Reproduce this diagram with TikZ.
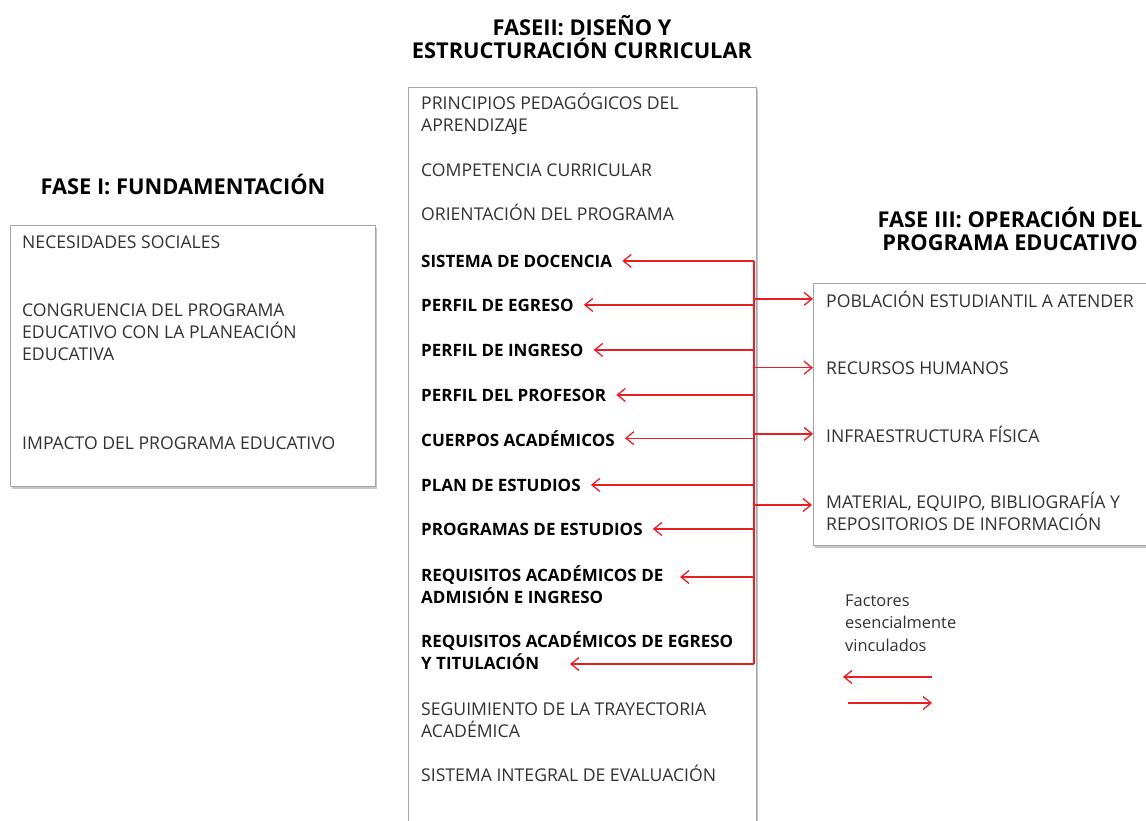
\documentclass[tikz,border=0pt]{standalone}
\usepackage{fontspec}
\setmainfont{Open Sans}
\usetikzlibrary{arrows.meta,positioning,shadows}

\definecolor{linkred}{RGB}{232,30,38}
\definecolor{boxgray}{RGB}{165,165,165}
\definecolor{itemgray}{RGB}{50,50,50}

\begin{document}
\begin{tikzpicture}[x=1pt, y=-1pt, >={Straight Barb[length=8pt,width=13pt]},
    panel/.style={draw=boxgray, line width=0.8pt, fill=white, anchor=north west,
        drop shadow={shadow xshift=2pt, shadow yshift=-2.5pt, opacity=0.45}},
    item/.style={anchor=base west, align=left, inner xsep=10pt, inner ysep=2pt,
        text=itemgray, font=\fontsize{17.6}{22}\selectfont},
    keyitem/.style={item, text=black, font=\fontsize{17}{22}\selectfont\bfseries},
    phase/.style={anchor=base, align=center, font=\fontsize{21.8}{23}\selectfont\bfseries},
    note/.style={anchor=base west, align=left, inner xsep=0pt, text=itemgray,
        font=\fontsize{16.4}{22.5}\selectfont},
    link/.style={->, draw=linkred, line width=1.3pt},
    wire/.style={draw=linkred, line width=1.3pt}]

    \clip (0,0) rectangle (1146,821);

    % Boxes {fundamentacion, diseno, operacion}
    \node [panel, minimum width=365pt, minimum height=261pt] (fund) at (10,225)  {};
    \node [panel, minimum width=348pt, minimum height=760pt] (dis)  at (408,87)  {};
    \node [panel, minimum width=360pt, minimum height=262pt] (oper) at (813,283) {};

    % Titles (base = last line)
    \node [phase] (t1) at (183,195) {FASE I: FUNDAMENTACIÓN};
    \node [phase] (t2) at (582,59)  {FASEII: DISEÑO Y\\ESTRUCTURACIÓN CURRICULAR};
    \node [phase] (t3) at (1010,251) {FASE III: OPERACIÓN DEL\\PROGRAMA EDUCATIVO};

    % Fase I
    \node [item] (necsoc) at (12,249) {NECESIDADES SOCIALES};
    \node [item] (congru) at (12,360) {CONGRUENCIA DEL PROGRAMA\\EDUCATIVO CON LA PLANEACIÓN\\EDUCATIVA};
    \node [item] (impact) at (12,449) {IMPACTO DEL PROGRAMA EDUCATIVO};

    % Fase II
    \node [item]    (princ)    at (411,132) {PRINCIPIOS PEDAGÓGICOS DEL\\APRENDIZA\kern-2.5pt JE};
    \node [item]    (compet)   at (411,177) {COMPETENCIA CURRICULAR};
    \node [item]    (orient)   at (411,221) {ORIENTACIÓN DEL PROGRAMA};
    \node [keyitem] (sisdoc)   at (411,267) {SISTEMA DE DOCENCIA};
    \node [keyitem] (pegreso)  at (411,311) {PERFIL DE EGRESO};
    \node [keyitem] (pingreso) at (411,356) {PERFIL DE INGRESO};
    \node [keyitem] (pprof)    at (411,401) {PERFIL DEL PROFESOR};
    \node [keyitem] (cuerpos)  at (411,446) {CUERPOS ACADÉMICOS};
    \node [keyitem] (plan)     at (411,491) {PLAN DE ESTUDIOS};
    \node [keyitem] (progs)    at (411,535) {PROGRAMAS DE ESTUDIOS};
    \node [keyitem] (reqadm)   at (411,603) {REQUISITOS ACADÉMICOS DE\\ADMISIÓN E INGRESO};
    \node [keyitem] (reqegr)   at (411,669) {REQUISITOS ACADÉMICOS DE EGRESO\\Y TITULACIÓN};
    \node [item]    (segui)    at (411,737) {SEGUIMIENTO DE LA TRAYECTORIA\\ACADÉMICA};
    \node [item]    (siseval)  at (411,781) {SISTEMA INTEGRAL DE EVALUACIÓN};

    % Fase III
    \node [item] (pobla) at (816,307) {POBLACIÓN ESTUDIANTIL A ATENDER};
    \node [item] (rrhh)  at (816,374) {RECURSOS HUMANOS};
    \node [item] (infra) at (816,442) {INFRAESTRUCTURA FÍSICA};
    \node [item] (mater) at (816,530) {MATERIAL, EQUIPO, BIBLIOGRAFÍA Y\\REPOSITORIOS DE INFORMACIÓN};

    % Legend
    \node [note] (factores) at (845,651) {Factores\\esencialmente\\vinculados};
    \coordinate (legA) at (932,677);
    \coordinate (legB) at (843,677);
    \coordinate (legC) at (848,703);
    \coordinate (legD) at (932,703);

    % Rail and arrow tips
    \coordinate (railx) at (754,0);
    \coordinate (reqadm tip) at (680,577);
    \coordinate (reqegr tip) at (570,664);
    \coordinate (mater tip)  at (812,505);

    % Paths
    \path [wire] (sisdoc.east -| railx) -- (reqegr tip -| railx);
    \foreach \n in {sisdoc, pegreso, pingreso, pprof, cuerpos, plan, progs}
        \path [link] (\n.east -| railx) -- (\n.east);
    \path [link] (reqadm tip -| railx) -- (reqadm tip);
    \path [link] (reqegr tip -| railx) -- (reqegr tip);
    \foreach \n in {pobla, rrhh, infra}
        \path [link] (\n.west -| railx) -- (\n.west -| oper.west);
    \path [link] (mater tip -| railx) -- (mater tip);
    \path [link] (legA) -- (legB);
    \path [link] (legC) -- (legD);

\end{tikzpicture}
\end{document}
